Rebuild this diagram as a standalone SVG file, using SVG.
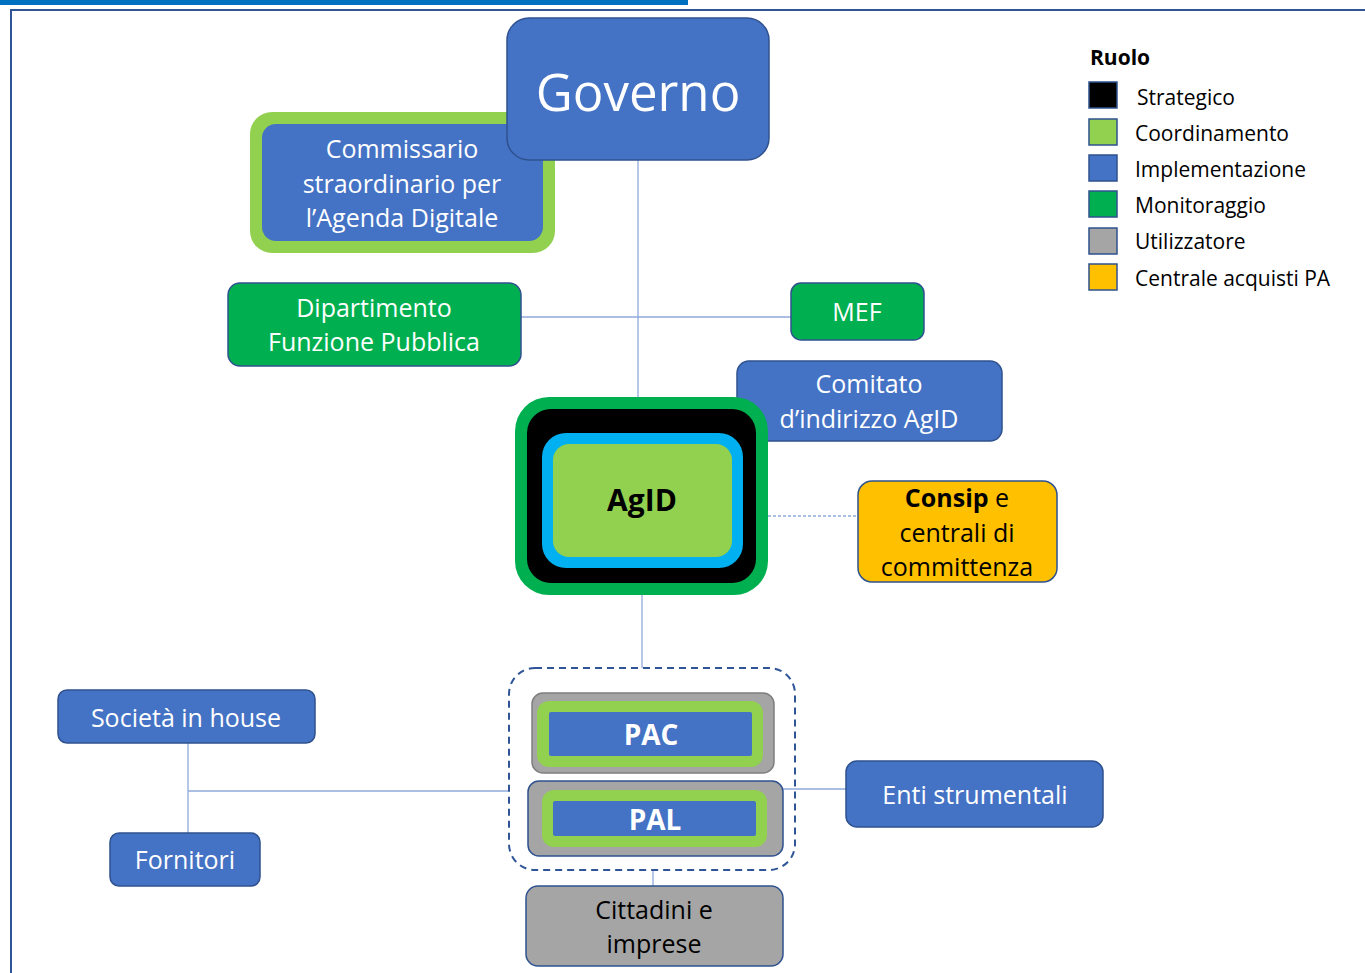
<svg xmlns="http://www.w3.org/2000/svg" width="1365" height="973" viewBox="0 0 1365 973">
<style>
text{font-family:"Open Sans","Noto Sans","DejaVu Sans",sans-serif;text-anchor:middle;dominant-baseline:central}
.w{fill:#fff}
.k{fill:#000}
.blue{fill:#4472C4;stroke:#2F528F;stroke-width:1.5}
.green{fill:#00B050;stroke:#2F528F;stroke-width:1.5}
.gray{fill:#A5A5A5;stroke:#2F528F;stroke-width:1.5}
.conn line,.conn path{stroke:#8FAADC;stroke-width:1.3;fill:none}
.lg rect{stroke:#2F528F;stroke-width:1.5}
.lg text{text-anchor:start;font-size:21px}
</style>
<rect width="1365" height="973" fill="#fff"/>
<rect x="0" y="0" width="688" height="5" fill="#0070C0"/>
<path d="M11 973 V10 H1365" fill="none" stroke="#2F5597" stroke-width="2"/>

<g class="conn" id="connectors">
<line x1="638" y1="160" x2="638" y2="397"/>
<line x1="521" y1="317" x2="791" y2="317"/>
<line x1="768" y1="516" x2="858" y2="516" stroke-dasharray="3,2"/>
<line x1="642" y1="595" x2="642" y2="668"/>
<line x1="653" y1="870" x2="653" y2="886"/>
<line x1="783" y1="789" x2="846" y2="789"/>
<line x1="188" y1="743" x2="188" y2="833"/>
<line x1="188" y1="791" x2="508" y2="791"/>
</g>

<g id="commissario">
<rect x="250" y="112" width="305" height="141" rx="22" fill="#92D050"/>
<rect x="262" y="124" width="281" height="117" rx="14" fill="#4472C4"/>
<text class="w" x="402" y="148" font-size="25">Commissario</text>
<text class="w" x="402" y="183" font-size="25">straordinario per</text>
<text class="w" x="402" y="217" font-size="25">l’Agenda Digitale</text>
</g>

<g id="governo">
<rect class="blue" x="507" y="18" width="262" height="142" rx="22"/>
<text class="w" x="638" y="91" font-size="51">Governo</text>
</g>

<g id="dipartimento">
<rect class="green" x="228" y="283" width="293" height="83" rx="12"/>
<text class="w" x="374" y="307" font-size="25">Dipartimento</text>
<text class="w" x="374" y="341" font-size="25">Funzione Pubblica</text>
</g>

<g id="mef">
<rect class="green" x="791" y="283" width="133" height="57" rx="10" stroke="#1F3864"/>
<text class="w" x="857" y="311" font-size="25">MEF</text>
</g>

<g id="comitato">
<rect class="blue" x="737" y="361" width="265" height="80" rx="12"/>
<text class="w" x="869" y="383" font-size="25">Comitato</text>
<text class="w" x="869" y="418" font-size="25">d’indirizzo AgID</text>
</g>

<g id="agid">
<rect x="515" y="397" width="253" height="198" rx="34" fill="#00B050"/>
<rect x="527" y="409" width="229" height="174" rx="24" fill="#000"/>
<rect x="542" y="433" width="201" height="135" rx="24" fill="#00B0F0"/>
<rect x="553" y="444" width="179" height="113" rx="16" fill="#92D050"/>
<text class="k" x="642" y="499" font-size="30" font-weight="bold">AgID</text>
</g>

<g id="consip">
<rect x="858" y="481" width="199" height="101" rx="14" fill="#FFC000" stroke="#2F528F" stroke-width="1.5"/>
<text class="k" x="957" y="497" font-size="25"><tspan font-weight="bold">Consip</tspan> e</text>
<text class="k" x="957" y="532" font-size="25">centrali di</text>
<text class="k" x="957" y="566" font-size="25">committenza</text>
</g>

<g id="pa-group">
<rect x="509" y="668" width="286" height="202" rx="26" fill="none" stroke="#2F5597" stroke-width="2" stroke-dasharray="7,5"/>
</g>

<g id="pac">
<rect x="532" y="693" width="242" height="80" rx="11" fill="#A5A5A5" stroke="#7F7F7F" stroke-width="1.5"/>
<rect x="537" y="701" width="226" height="66" rx="12" fill="#92D050"/>
<rect x="549" y="712" width="203" height="44" rx="2" fill="#4472C4"/>
<text class="w" x="651" y="734" font-size="28" font-weight="bold">PAC</text>
</g>

<g id="pal">
<rect class="gray" x="528" y="781" width="255" height="75" rx="11"/>
<rect x="542" y="790" width="225" height="57" rx="12" fill="#92D050"/>
<rect x="553" y="801" width="203" height="35" rx="2" fill="#4472C4"/>
<text class="w" x="655" y="819" font-size="28" font-weight="bold">PAL</text>
</g>

<g id="cittadini">
<rect class="gray" x="526" y="886" width="257" height="80" rx="12"/>
<text class="k" x="654" y="909" font-size="25">Cittadini e</text>
<text class="k" x="654" y="943" font-size="25">imprese</text>
</g>

<g id="enti">
<rect class="blue" x="846" y="761" width="257" height="66" rx="11"/>
<text class="w" x="975" y="794" font-size="25">Enti strumentali</text>
</g>

<g id="societa">
<rect class="blue" x="58" y="690" width="257" height="53" rx="9"/>
<text class="w" x="186" y="717" font-size="25">Società in house</text>
</g>

<g id="fornitori">
<rect class="blue" x="110" y="833" width="150" height="53" rx="9"/>
<text class="w" x="185" y="859" font-size="25">Fornitori</text>
</g>

<g id="legend" class="lg">
<text x="1090" y="57" font-size="22" font-weight="bold" fill="#000">Ruolo</text>
<rect x="1089" y="82" width="28" height="26" fill="#000"/>
<rect x="1089" y="119" width="28" height="26" fill="#92D050"/>
<rect x="1089" y="155" width="28" height="26" fill="#4472C4"/>
<rect x="1089" y="191" width="28" height="26" fill="#00B050"/>
<rect x="1089" y="228" width="28" height="26" fill="#A5A5A5"/>
<rect x="1089" y="264" width="28" height="26" fill="#FFC000"/>
<text x="1137" y="97" fill="#000">Strategico</text>
<text x="1135" y="133" fill="#000">Coordinamento</text>
<text x="1135" y="169" fill="#000">Implementazione</text>
<text x="1135" y="205" fill="#000">Monitoraggio</text>
<text x="1135" y="241" fill="#000">Utilizzatore</text>
<text x="1135" y="278" fill="#000">Centrale acquisti PA</text>
</g>
</svg>
